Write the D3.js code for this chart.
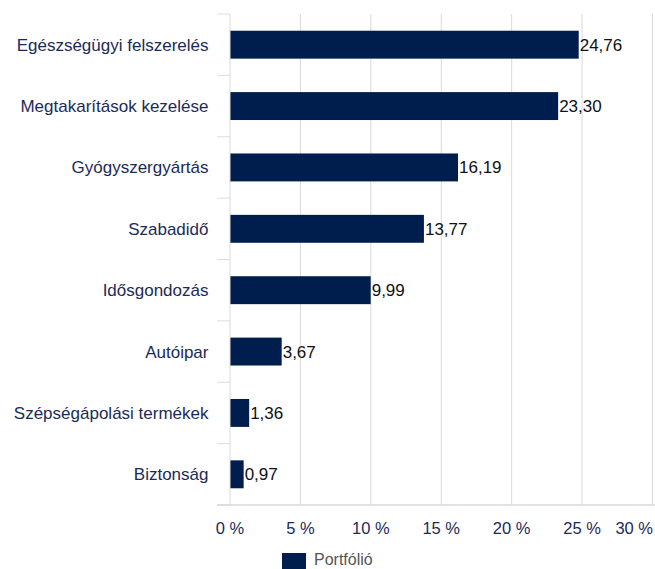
<!DOCTYPE html>
<html>
<head>
<meta charset="utf-8">
<script src="https://cdn.jsdelivr.net/npm/d3@7"></script>
<style>
  body { margin: 0; background: #fff; }
  text { font-family: "Liberation Sans", Arial, sans-serif; }
</style>
</head>
<body>
<svg width="655" height="569"></svg>
<script>
const categories = ["Egészségügyi felszerelés", "Megtakarítások kezelése", "Gyógyszergyártás", "Szabadidő",
    "Idősgondozás", "Autóipar", "Szépségápolási termékek", "Biztonság"];
const values = [24.76, 23.30, 16.19, 13.77, 9.99, 3.67, 1.36, 0.97];
const xTicks = [0, 5, 10, 15, 20, 25, 30];
const seriesName = "Portfólió";

const svg = d3.select("svg");
const plotLeft = 230, plotRight = 652.5, plotTop = 14, plotBottom = 505;

const x = d3.scaleLinear().domain([0, 30]).range([plotLeft, plotRight]);
const y = d3.scaleBand().domain(categories).range([plotTop, plotBottom])
    .paddingInner(0.545).paddingOuter(0.2725);

// gridlines
svg.append("g").selectAll("line")
    .data(xTicks.slice(1))
    .enter().append("line")
    .attr("x1", d => x(d)).attr("x2", d => x(d))
    .attr("y1", plotTop).attr("y2", plotBottom)
    .attr("stroke", "#d9d9d9").attr("stroke-width", 1);

// category separators on left
const step = y.step();
svg.append("g").selectAll("line")
    .data(d3.range(categories.length + 1))
    .enter().append("line")
    .attr("x1", plotLeft - 13).attr("x2", plotLeft)
    .attr("y1", d => plotTop + d * step).attr("y2", d => plotTop + d * step)
    .attr("stroke", "#d6dce8").attr("stroke-width", 1);

// bars
svg.append("g").selectAll("rect")
    .data(values)
    .enter().append("rect")
    .attr("x", x(0))
    .attr("y", (d, i) => y(categories[i]))
    .attr("width", d => x(d) - x(0))
    .attr("height", y.bandwidth())
    .attr("fill", "#001e4d");

// value labels
svg.append("g").selectAll("text")
    .data(values)
    .enter().append("text")
    .attr("x", d => x(d) + 1)
    .attr("y", (d, i) => y(categories[i]) + y.bandwidth() / 2 + 6)
    .attr("font-size", "17px")
    .attr("fill", "#111")
    .text(d => d3.format(".2f")(d).replace(".", ","));

// axis lines
svg.append("line")
    .attr("x1", plotLeft).attr("x2", plotLeft).attr("y1", plotTop).attr("y2", plotBottom)
    .attr("stroke", "#d9d9d9");
svg.append("line")
    .attr("x1", plotLeft - 13).attr("x2", 655).attr("y1", plotBottom).attr("y2", plotBottom)
    .attr("stroke", "#d9d9d9").attr("stroke-width", 1.5);

// category labels
svg.append("g").selectAll("text")
    .data(categories)
    .enter().append("text")
    .attr("x", 208.5)
    .attr("y", d => y(d) + y.bandwidth() / 2 + 6)
    .attr("text-anchor", "end")
    .attr("font-size", "17px")
    .attr("fill", "#1b2b58")
    .text(d => d);

// x tick labels
svg.append("g").selectAll("text")
    .data(xTicks)
    .enter().append("text")
    .attr("x", (d, i) => i === xTicks.length - 1 ? 653 : x(d))
    .attr("y", 534)
    .attr("text-anchor", (d, i) => i === xTicks.length - 1 ? "end" : "middle")
    .attr("font-size", "16.5px")
    .attr("fill", "#1b2b58")
    .text(d => d + " %");

// legend
svg.append("rect")
    .attr("x", 282).attr("y", 553).attr("width", 24).attr("height", 16)
    .attr("fill", "#001e4d");
svg.append("text")
    .attr("x", 314).attr("y", 565)
    .attr("font-size", "16px")
    .attr("fill", "#555")
    .text(seriesName);
</script>
</body>
</html>
